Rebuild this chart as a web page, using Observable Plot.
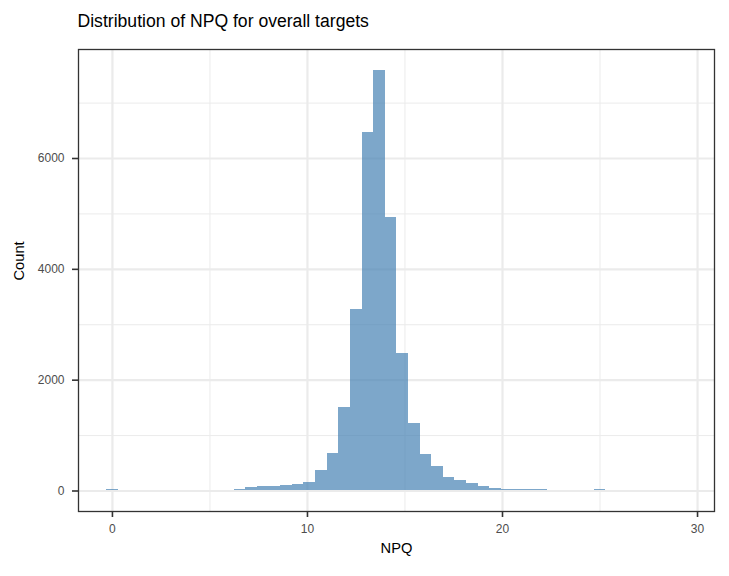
<!DOCTYPE html>
<html>
<head>
<meta charset="utf-8">
<script src="https://cdn.jsdelivr.net/npm/d3@7"></script>
<script src="https://cdn.jsdelivr.net/npm/@observablehq/plot@0.6"></script>
<style>
  html, body { margin: 0; padding: 0; background: #fff; }
  #chart svg { display: block; }
</style>
</head>
<body>
<div id="chart"></div>
<script>
// Histogram of NPQ: bins centred at k * binWidth, k = 0..42
const binWidth = 25 / 42;
const binIndex = d3.range(0, 43);
const counts = [
  18, 0, 0, 0, 0, 0, 0, 0, 0, 0,
  0, 22, 63, 81, 81, 105, 122, 155, 369, 676,
  1505, 3276, 6465, 7595, 4928, 2477, 1216, 658, 441, 243,
  189, 135, 81, 45, 27, 18, 18, 18, 0, 0,
  0, 0, 18
];
const xTicks = [0, 10, 20, 30];
const xMinor = [5, 15, 25];
const yTicks = [0, 2000, 4000, 6000];
const yMinor = [1000, 3000, 5000, 7000];
const titleText = "Distribution of NPQ for overall targets";
const xLabel = "NPQ";
const yLabel = "Count";

const bins = binIndex
  .map((k, i) => ({center: k * binWidth, count: counts[i]}))
  .filter(d => d.count > 0);

const font = "Liberation Sans, Arial, Helvetica, sans-serif";
const grid = "#EBEBEB";

const chart = Plot.plot({
  width: 729,
  height: 576,
  marginLeft: 78,
  marginRight: 15,
  marginTop: 49,
  marginBottom: 65,
  style: {fontFamily: font, background: "#fff"},
  x: {domain: [-1.74, 30.87]},
  y: {domain: [-370, 7967]},
  marks: [
    Plot.ruleX(xMinor, {stroke: grid, strokeWidth: 1}),
    Plot.ruleY(yMinor, {stroke: grid, strokeWidth: 1}),
    Plot.ruleX(xTicks, {stroke: grid, strokeWidth: 2.2}),
    Plot.ruleY(yTicks, {stroke: grid, strokeWidth: 2.2}),
    Plot.rectY(bins, {
      x1: d => d.center - binWidth / 2,
      x2: d => d.center + binWidth / 2,
      y1: 0,
      y2: "count",
      inset: 0,
      fill: "steelblue",
      fillOpacity: 0.7,
      shapeRendering: "crispEdges"
    }),
    Plot.frame({stroke: "#333", strokeWidth: 1.3}),
    Plot.axisX({ticks: xTicks, tickSize: 6, tickPadding: 7, label: null,
      fontSize: 12, stroke: "#333", fill: "#4D4D4D", strokeWidth: 1.6, tickFormat: d => String(d)}),
    Plot.axisY({ticks: yTicks, tickSize: 6, tickPadding: 8, label: null,
      fontSize: 12, stroke: "#333", fill: "#4D4D4D", strokeWidth: 1.6, tickFormat: d => String(d)}),
    Plot.text([titleText], {frameAnchor: "top-left", textAnchor: "start", dx: -1, dy: -35,
      fontSize: 17.6, fill: "#000"}),
    Plot.text([xLabel], {frameAnchor: "bottom", dy: 41, fontSize: 14.7, fill: "#000"}),
    Plot.text([yLabel], {frameAnchor: "left", dx: -59, rotate: -90, fontSize: 14.7, fill: "#000"})
  ]
});
document.getElementById("chart").appendChild(chart);
</script>
</body>
</html>
